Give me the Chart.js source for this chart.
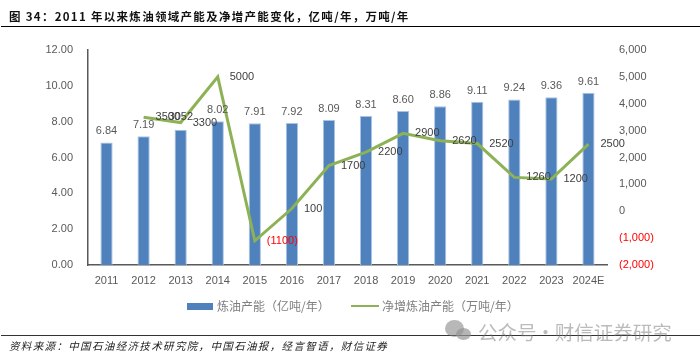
<!DOCTYPE html>
<html>
<head>
<meta charset="utf-8">
<script src="https://cdn.jsdelivr.net/npm/chart.js@4"></script>
<style>
	html, body { margin: 0; padding: 0; background: #fff; }
	#wrap { position: relative; width: 700px; height: 359px; overflow: hidden; font-family: "Noto Sans CJK SC", sans-serif; }
	#myChart { position: absolute; left: 0; top: 0; }
	.abs { position: absolute; white-space: nowrap; }
	#title { left: 9px; top: 7px; font-size: 11.5px; line-height: 18px; font-weight: 700; color: #111; letter-spacing: 1.3px; }
	#rule_top { left: 1px; right: 0; top: 26px; height: 1px; background: #000; }
	#rule_bottom { left: 1px; right: 0; top: 335px; height: 1px; background: #333; }
	#source { left: 9px; top: 338px; font-size: 10.5px; line-height: 16px; font-style: italic; color: #222; letter-spacing: 1.35px; }
	.legend_text { top: 297px; font-size: 12px; line-height: 18px; color: #7f7f7f; }
	.swatch { position: absolute; }
	#watermark { left: 478px; top: 318px; font-size: 19.5px; line-height: 27px; color: rgba(120,120,120,.5); word-spacing: -5px; }
	.bubble { position: absolute; border-radius: 50%; background: rgba(125,125,125,.55); }
</style>
</head>
<body>
<div id="wrap">
	<canvas id="myChart" width="700" height="359"></canvas>
	<div class="abs" id="title"></div>
	<div class="abs" id="rule_top"></div>
	<div class="abs" id="rule_bottom"></div>
	<div class="abs" id="source"></div>
	<div class="swatch" style="left:187px;top:303px;width:26px;height:7px;background:#4f81bd"></div>
	<div class="abs legend_text" id="legend_bar" style="left:217px"></div>
	<div class="swatch" style="left:351px;top:305px;width:28px;height:2px;background:#8db255"></div>
	<div class="abs legend_text" id="legend_line" style="left:382px"></div>
	<div class="bubble" style="left:445px;top:320px;width:19px;height:17px"></div>
	<div class="bubble" style="left:456px;top:328px;width:15px;height:12px;background:rgba(150,150,150,.7)"></div>
	<div class="abs" id="watermark"></div>
</div>
<script>
var title_text = "图 34：2011 年以来炼油领域产能及净增产能变化，亿吨/年，万吨/年";
var source_text = "资料来源：中国石油经济技术研究院，中国石油报，经言智语，财信证券";
var watermark_text = "公众号 · 财信证券研究";

var years = ["2011", "2012", "2013", "2014", "2015", "2016", "2017", "2018", "2019", "2020", "2021", "2022", "2023", "2024E"];
var capacity = [6.84, 7.19, 7.55, 8.02, 7.91, 7.92, 8.09, 8.31, 8.6, 8.86, 9.11, 9.24, 9.36, 9.61];
var capacity_labels = ["6.84", "7.19", "", "8.02", "7.91", "7.92", "8.09", "8.31", "8.60", "8.86", "9.11", "9.24", "9.36", "9.61"];
var net_add = [null, 3500, 3300, 5000, -1100, 100, 1700, 2200, 2900, 2620, 2520, 1260, 1200, 2500];
var left_ticks = [0, 2, 4, 6, 8, 10, 12];
var right_ticks = [-2000, -1000, 0, 1000, 2000, 3000, 4000, 5000, 6000];

var bar_name = "炼油产能（亿吨/年）";
var line_name = "净增炼油产能（万吨/年）";

document.getElementById("title").textContent = title_text;
document.getElementById("source").textContent = source_text;
document.getElementById("watermark").textContent = watermark_text;
document.getElementById("legend_bar").textContent = bar_name;
document.getElementById("legend_line").textContent = line_name;

function money(v) {
	var s = Math.abs(v).toLocaleString("en-US");
	return v < 0 ? "(" + s + ")" : s;
}

const label_font = "11px 'Liberation Sans', sans-serif";

// data labels, chart.js has none of its own
const value_labels = {
	id: "value_labels",
	afterDatasetsDraw(chart) {
		const ctx = chart.ctx;
		const x = chart.scales.x;
		const y = chart.scales.y;
		const y2 = chart.scales.y2;
		ctx.save();
		ctx.font = label_font;
		ctx.textBaseline = "middle";
		ctx.textAlign = "center";
		ctx.fillStyle = "#595959";
		for (let i = 0; i < years.length; i++) {
			ctx.fillText(capacity_labels[i], x.getPixelForValue(i), y.getPixelForValue(capacity[i]) - 11);
		}
		ctx.textAlign = "left";
		for (let i = 0; i < years.length; i++) {
			if (net_add[i] === null) continue;
			var neg = net_add[i] < 0;
			ctx.fillStyle = neg ? "#ff0000" : "#404040";
			var txt = neg ? "(" + Math.abs(net_add[i]) + ")" : String(net_add[i]);
			ctx.fillText(txt, x.getPixelForValue(i) + 12, y2.getPixelForValue(net_add[i]));
		}
		// stray label sitting on top of the 2012 one in the original
		ctx.fillStyle = "#404040";
		ctx.fillText("3052", x.getPixelForValue(1) + 25, y2.getPixelForValue(net_add[1]));
		ctx.restore();
	},
};

const config = {
	data: {
		labels: years,
		datasets: [
			{
				type: "line",
				label: line_name,
				data: net_add,
				yAxisID: "y2",
				borderColor: "#8db255",
				borderWidth: 3,
				pointRadius: 0,
				tension: 0,
				spanGaps: false,
				order: 1,
			},
			{
				type: "bar",
				label: bar_name,
				data: capacity,
				yAxisID: "y",
				backgroundColor: "#4f81bd",
				borderColor: "#a9c4e4",
				borderWidth: { left: 1, right: 1, top: 1, bottom: 0 },
				barPercentage: 0.33,
				categoryPercentage: 1,
				order: 2,
			},
		],
	},
	options: {
		responsive: false,
		animation: false,
		layout: { padding: { top: 50, left: 0, right: 0, bottom: 0 } },
		plugins: { legend: { display: false }, tooltip: { enabled: false } },
		scales: {
			x: {
				grid: { display: false, drawTicks: false },
				border: { color: "#595959", width: 1.5 },
				ticks: { color: "#595959", font: { family: "Liberation Sans", size: 11 }, padding: 9, maxRotation: 0, autoSkip: false },
				afterFit(axis) { axis.height = 94; },
			},
			y: {
				position: "left",
				min: 0,
				max: 12,
				afterBuildTicks(axis) { axis.ticks = left_ticks.map(function (v) { return { value: v }; }); },
				grid: { display: false, drawTicks: false },
				border: { color: "#595959", width: 1.5 },
				ticks: {
					color: "#595959",
					font: { family: "Liberation Sans", size: 11 },
					padding: 15,
					callback: function (v) { return v.toFixed(2); },
				},
				afterFit(axis) { axis.width = 88; },
			},
			y2: {
				position: "right",
				min: -2000,
				max: 6000,
				afterBuildTicks(axis) { axis.ticks = right_ticks.map(function (v) { return { value: v }; }); },
				grid: { display: false, drawTicks: false },
				border: { display: false },
				ticks: {
					color: function (c) { return c.tick.value < 0 ? "#ff0000" : "#595959"; },
					font: { family: "Liberation Sans", size: 11 },
					padding: 12,
					callback: money,
				},
				afterFit(axis) { axis.width = 93; },
			},
		},
	},
	plugins: [value_labels],
};

const myChart = new Chart(document.getElementById("myChart"), config);
</script>
</body>
</html>
